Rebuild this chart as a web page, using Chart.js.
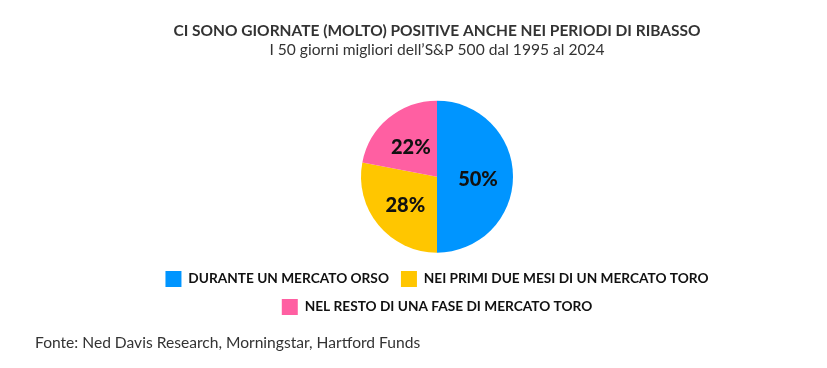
<!DOCTYPE html>
<html>
<head>
<meta charset="utf-8">
<script src="https://cdn.jsdelivr.net/npm/chart.js@4.4.1/dist/chart.umd.min.js"></script>
<style>
  html, body { margin: 0; padding: 0; background: #fff; }
  #wrap { position: relative; width: 827px; height: 368px; }
  #source { position: absolute; left: 35px; top: 333px; font: 15.6px Lato, sans-serif; color: #333; }
</style>
</head>
<body>
<div id="wrap">
  <canvas id="pieChart" width="827" height="368"></canvas>
  <div id="source">Fonte: Ned Davis Research, Morningstar, Hartford Funds</div>
</div>
<script>
// dati del grafico
const categories = ['DURANTE UN MERCATO ORSO', 'NEI PRIMI DUE MESI DI UN MERCATO TORO', 'NEL RESTO DI UNA FASE DI MERCATO TORO'];
const shares = [50, 28, 22];
const sliceColors = ['#0095FF', '#FFC600', '#FF5FA2'];

// etichette percentuali dentro le fette
const sliceLabels = {
	id: 'sliceLabels',
	afterDatasetsDraw(chart) {
		const ctx = chart.ctx;
		const meta = chart.getDatasetMeta(0);
		ctx.save();
		ctx.font = '900 20px Lato, sans-serif';
		ctx.fillStyle = '#111';
		ctx.textAlign = 'center';
		ctx.textBaseline = 'middle';
		meta.data.forEach((arc, i) => {
			const mid = (arc.startAngle + arc.endAngle) / 2;
			const d = arc.outerRadius * 0.54;
			ctx.fillText(shares[i] + '%', arc.x + Math.cos(mid) * d, arc.y + Math.sin(mid) * d + 3);
		});
		ctx.restore();
	}
};

Chart.defaults.font.family = 'Lato, sans-serif';

new Chart(document.getElementById('pieChart'), {
	type: 'pie',
	data: {
		labels: categories,
		datasets: [{
			data: shares,
			backgroundColor: sliceColors,
			borderWidth: 0,
			radius: 76
		}]
	},
	options: {
		responsive: false,
		animation: false,
		layout: { padding: { left: 140, right: 93, top: 22, bottom: 43 } },
		plugins: {
			title: {
				display: true,
				text: 'CI SONO GIORNATE (MOLTO) POSITIVE ANCHE NEI PERIODI DI RIBASSO',
				color: '#333',
				font: { size: 15.5, weight: 'bold' },
				padding: { top: 0, bottom: 0 }
			},
			subtitle: {
				display: true,
				text: 'I 50 giorni migliori dell\u2019S&P 500 dal 1995 al 2024',
				color: '#333',
				font: { size: 15.6 },
				padding: { top: 0, bottom: 35 }
			},
			legend: {
				position: 'bottom',
				labels: {
					color: '#111',
					boxWidth: 16,
					boxHeight: 16,
					padding: 12,
					font: { size: 13.7, weight: 'bold' }
				}
			},
			tooltip: { enabled: false }
		}
	},
	plugins: [sliceLabels]
});
</script>
</body>
</html>
